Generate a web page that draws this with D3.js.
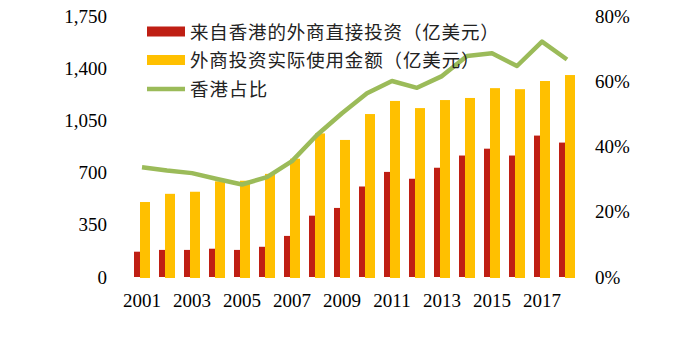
<!DOCTYPE html>
<html>
<head>
<meta charset="utf-8">
<script src="https://cdn.jsdelivr.net/npm/d3@7"></script>
<style>
  body { margin: 0; background: #fff; }
  svg text { fill: #000; }
  .num { font-family: "Liberation Serif", "Times New Roman", serif; font-size: 19px; }
  .cjk { font-family: "Noto Sans CJK SC", sans-serif; font-size: 18.5px; fill: #222; }
</style>
</head>
<body>
<div id="chart"></div>
<script>
const years = ['2001','2002','2003','2004','2005','2006','2007','2008','2009','2010','2011','2012','2013','2014','2015','2016','2017','2018'];
const hkFdi = [170, 182, 182, 190, 182, 203, 276, 412, 464, 608, 706, 660, 734, 816, 862, 816, 950, 903];
const totalFdi = [497, 552, 566, 636, 640, 686, 788, 958, 914, 1088, 1176, 1128, 1182, 1196, 1262, 1255, 1310, 1350];
const hkShare = [0.337, 0.327, 0.319, 0.301, 0.284, 0.307, 0.356, 0.436, 0.503, 0.564, 0.602, 0.581, 0.617, 0.679, 0.687, 0.648, 0.723, 0.668];
const leftTicks = [0, 350, 700, 1050, 1400, 1750];
const rightTicks = [0, 0.2, 0.4, 0.6, 0.8];
const legendLabels = ['来自香港的外商直接投资（亿美元）', '外商投资实际使用金额（亿美元）', '香港占比'];

const redColor = '#BF1F14',
    yellowColor = '#FFC000',
    greenColor = '#9BBB59';

const width = 685, height = 345;
const svg = d3.select('#chart').append('svg')
    .attr('width', width)
    .attr('height', height);

const x = d3.scaleBand().domain(years).range([129.5, 579.5]);
const yL = d3.scaleLinear().domain([0, 1750]).range([277, 16.5]);
const yR = d3.scaleLinear().domain([0, 0.8]).range([277, 16.5]);

// left axis labels
svg.append('g').selectAll('text')
    .data(leftTicks).enter()
    .append('text')
    .attr('class', 'num')
    .attr('x', 107)
    .attr('y', d => yL(d) + 6.5)
    .attr('text-anchor', 'end')
    .text(d => d3.format(',')(d));

// right axis labels
svg.append('g').selectAll('text')
    .data(rightTicks).enter()
    .append('text')
    .attr('class', 'num')
    .attr('x', 595)
    .attr('y', d => yR(d) + 6.5)
    .text(d => d3.format('.0%')(d));

// x labels, every other year
svg.append('g').selectAll('text')
    .data(years.filter((d, i) => i % 2 == 0)).enter()
    .append('text')
    .attr('class', 'num')
    .attr('x', d => x(d) + x.bandwidth() / 2)
    .attr('y', 307)
    .attr('text-anchor', 'middle')
    .text(d => d);

// bars
svg.append('g').selectAll('rect')
    .data(years).enter()
    .append('rect')
    .attr('x', d => x(d) + 4.5)
    .attr('width', 6)
    .attr('y', (d, i) => yL(hkFdi[i]))
    .attr('height', (d, i) => yL(0) - yL(hkFdi[i]))
    .attr('fill', redColor);

svg.append('g').selectAll('rect')
    .data(years).enter()
    .append('rect')
    .attr('x', d => x(d) + 11.5)
    .attr('width', 8)
    .attr('y', (d, i) => yL(totalFdi[i]))
    .attr('height', (d, i) => yL(0) - yL(totalFdi[i]))
    .attr('fill', yellowColor)
    .attr('stroke', yellowColor)
    .attr('stroke-width', 2);

// share line
const line = d3.line()
    .x((d, i) => x(years[i]) + x.bandwidth() / 2)
    .y(d => yR(d));
svg.append('path')
    .datum(hkShare)
    .attr('d', line)
    .attr('fill', 'none')
    .attr('stroke', greenColor)
    .attr('stroke-width', 4.5)
    .attr('stroke-linejoin', 'round');

// legend
const legend = svg.append('g');
const legendY = [31.5, 60, 89];
legend.append('rect').attr('x', 147).attr('y', legendY[0] - 5).attr('width', 38).attr('height', 10).attr('fill', redColor);
legend.append('rect').attr('x', 147).attr('y', legendY[1] - 5).attr('width', 38).attr('height', 10).attr('fill', yellowColor);
legend.append('line').attr('x1', 147).attr('x2', 185).attr('y1', legendY[2]).attr('y2', legendY[2])
    .attr('stroke', greenColor).attr('stroke-width', 4.5);
legend.selectAll('text')
    .data(legendLabels).enter()
    .append('text')
    .attr('class', 'cjk')
    .attr('x', 190)
    .attr('y', (d, i) => legendY[i] + 7)
    .attr('textLength', d => d.length * 19.3)
    .attr('lengthAdjust', 'spacing')
    .text(d => d);
</script>
</body>
</html>
